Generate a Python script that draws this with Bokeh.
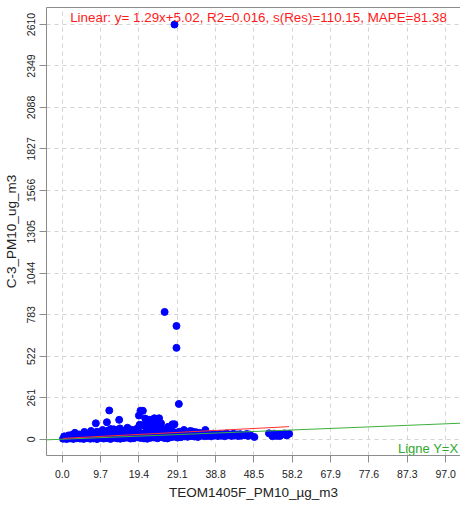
from bokeh.plotting import figure
from bokeh.models import Range1d, FixedTicker, LinearAxis, Label, ColumnDataSource, PrintfTickFormatter
from bokeh.embed import file_html
from bokeh.resources import INLINE

# ---- data ----
x_ticks = [0.0, 9.7, 19.4, 29.1, 38.8, 48.5, 58.2, 67.9, 77.6, 87.3, 97.0]
y_ticks = [0, 261, 522, 783, 1044, 1305, 1566, 1827, 2088, 2349, 2610]

out_x = [28.4, 25.9, 28.9, 28.9, 29.5, 11.9, 8.5, 11.3, 14.4, 19.8, 20.4, 19.4, 19.6,
         22.1, 23.3, 24.5, 22.5, 25.0, 27.9, 28.4, 20.5, 21.3, 22.1, 23.8, 21.0]
out_y = [2610, 801, 713, 575, 222, 181, 100, 107, 122, 179, 179, 149, 90,
         122, 132, 132, 83, 100, 94, 94, 88, 117, 117, 115, 130]

low_x = [0.2, 1.1, 2.0, 2.8, 3.7, 4.5, 5.4, 6.2, 7.1, 7.9, 8.8, 9.6, 10.5, 11.3, 12.2,
         13.0, 13.9, 14.7, 15.6, 16.4, 17.3, 18.1, 19.0, 19.8, 20.7, 21.5, 22.4, 23.2,
         24.1, 24.9, 25.8, 26.6, 27.5, 28.3, 29.2, 30.0, 30.9, 31.7, 32.6, 33.4, 34.3,
         35.1, 36.0, 36.8, 37.7, 38.5, 39.4, 40.2, 41.1, 41.9, 42.8, 43.6, 44.5, 45.3,
         46.2, 47.0, 48.6]
low_y = [3, 1, 5, 2, 6, 4, 2, 7, 3, 5, 1, 8, 4, 6, 2, 9, 5, 3, 7, 10, 4, 6, 12, 8, 5,
         3, 9, 11, 6, 14, 8, 5, 12, 16, 10, 13, 18, 15, 20, 17, 14, 22, 19, 21, 18, 23,
         20, 22, 19, 24, 21, 23, 20, 22, 25, 21, 14]

up_x = [0.5, 1.6, 2.5, 3.4, 4.3, 5.0, 5.9, 6.8, 7.6, 8.3, 9.2, 10.0, 10.9, 11.8, 12.6,
        13.5, 14.3, 15.1, 16.0, 16.9, 17.7, 18.6, 19.4, 20.3, 21.1, 22.0, 22.8, 23.7,
        24.5, 25.4, 26.2, 27.1, 27.9, 28.8, 29.6, 30.5, 31.3, 32.2, 33.0, 33.9, 34.7]
up_y = [18, 24, 28, 22, 30, 26, 31, 25, 33, 29, 36, 27, 38, 32, 35, 30, 41, 34, 37, 43,
        33, 39, 45, 36, 42, 48, 38, 44, 40, 46, 37, 43, 50, 41, 47, 39, 45, 42, 48, 44, 40]

mid_x = [35.6, 36.5, 37.3, 38.2, 39.0, 39.9, 40.8, 41.6, 42.5, 43.3, 44.2, 45.0, 45.9, 46.7, 47.5]
mid_y = [32, 38, 30, 35, 28, 33, 31, 36, 29, 34, 30, 32, 27, 33, 29]

sc_x = [3.2, 5.6, 7.3, 8.8, 10.2, 11.6, 13.1, 14.6, 15.8, 16.5, 17.4, 18.9, 19.6, 21.4,
        22.9, 24.2, 25.6, 26.8, 30.8, 32.4, 36.2, 13.8, 18.2, 12.3]
sc_y = [40, 46, 52, 47, 58, 55, 62, 68, 54, 72, 60, 66, 90, 74, 83, 70, 64, 78, 58, 52,
        58, 48, 57, 64]

rc_x = [52.3, 52.9, 53.6, 54.2, 54.9, 55.5, 56.2, 56.8, 57.4, 53.2, 55.0]
rc_y = [37, 30, 35, 21, 33, 28, 36, 24, 34, 19, 20]

slope = 1.29
intercept = 5.02
title_text = "Linear: y= 1.29x+5.02, R2=0.016, s(Res)=110.15, MAPE=81.38"

# ---- figure ----
X0, X1 = -3.98, 100.75
Y0, Y1 = -102.5, 2717.0

xs_all = out_x + low_x + up_x + mid_x + sc_x + rc_x
ys_all = out_y + low_y + up_y + mid_y + sc_y + rc_y
src = ColumnDataSource(dict(x=xs_all, y=ys_all))

FONT = "Liberation Sans"
p = figure(width=460, height=502, output_backend="svg", toolbar_location=None,
           x_range=Range1d(X0, X1), y_range=Range1d(Y0, Y1),
           min_border_left=39, min_border_right=0, min_border_top=7, min_border_bottom=40)
p.outline_line_color = None
p.background_fill_color = "white"
p.border_fill_color = "white"

for g in (p.xgrid[0], p.ygrid[0]):
    g.grid_line_color = "#D3D3D3"
    g.grid_line_dash = "4 4"
    g.grid_line_width = 1
p.xgrid[0].ticker = FixedTicker(ticks=x_ticks)
p.ygrid[0].ticker = FixedTicker(ticks=y_ticks)

xa = p.xaxis[0]
xa.ticker = FixedTicker(ticks=x_ticks)
xa.formatter = PrintfTickFormatter(format="%.1f")
xa.axis_label = "TEOM1405F_PM10_µg_m3"
ya = p.yaxis[0]
ya.ticker = FixedTicker(ticks=y_ticks)
ya.formatter = PrintfTickFormatter(format="%d")
ya.axis_label = "C-3_PM10_ug_m3"
ya.major_label_orientation = "vertical"

for a in (xa, ya):
    a.axis_line_color = "#8C8C8C"
    a.major_tick_line_color = "#8C8C8C"
    a.major_tick_in = 0
    a.major_tick_out = 7
    a.minor_tick_line_color = None
    a.major_label_text_font = FONT
    a.major_label_text_font_size = "10.5px"
    a.major_label_text_color = "#222222"
    a.axis_label_text_font = FONT
    a.axis_label_text_font_size = "13.5px"
    a.axis_label_text_font_style = "normal"
    a.axis_label_text_color = "#222222"
xa.major_label_standoff = 7
xa.axis_label_standoff = 4
ya.major_label_standoff = 4
ya.axis_label_standoff = 6

top = LinearAxis(ticker=FixedTicker(ticks=[]), axis_line_color="#8C8C8C",
                 major_tick_out=0, major_tick_in=0, minor_tick_line_color=None,
                 major_label_text_font_size="0px", major_label_standoff=0)
p.add_layout(top, "above")

p.scatter("x", "y", source=src, size=7, color="blue", line_color="blue")

# regression line and Y=X line
xmin, xmax = min(xs_all), max(xs_all)
p.line([X0, X1], [X0, X1], line_color="#3CB03C", line_width=1)
p.line([xmin, xmax], [slope * xmin + intercept, slope * xmax + intercept],
       line_color="#FF3030", line_width=1)

p.add_layout(Label(x=2.0, y=2656, text=title_text, text_color="#FF1A1A",
                   text_font=FONT, text_font_size="13.4px",
                   text_baseline="middle", text_align="left"))
p.add_layout(Label(x=100.2, y=-56, text="Ligne Y=X", text_color="#2EA82E",
                   text_font=FONT, text_font_size="13px",
                   text_baseline="middle", text_align="right"))

open("out.html", "w").write(file_html(p, INLINE))
